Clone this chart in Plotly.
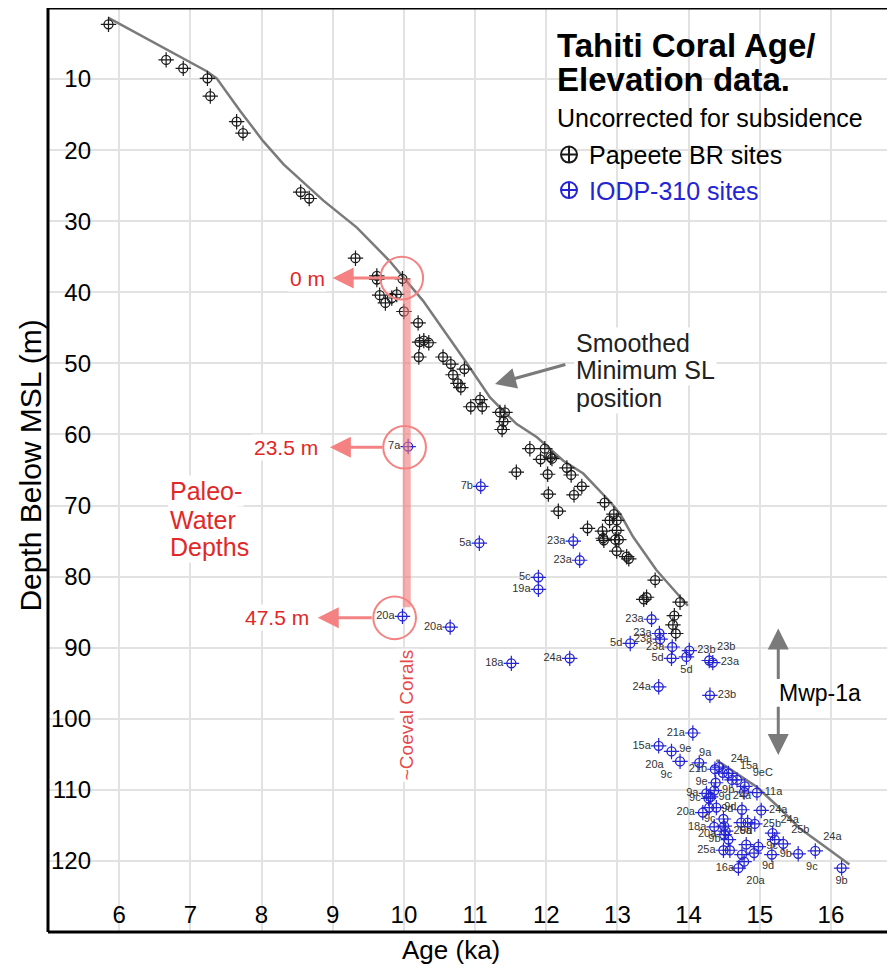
import plotly.graph_objects as go

FONT = "Liberation Sans, Arial, Helvetica, sans-serif"

# ---------------- data ----------------
# Papeete BR sites (age ka, depth m)
br_age = [5.85, 6.66, 6.90, 7.24, 7.28, 7.65, 7.74, 8.55, 8.67, 9.32, 9.62, 9.62, 9.98, 9.66,
          9.74, 9.83, 9.90, 10.00, 10.20, 10.22, 10.28, 10.35, 10.21, 10.55, 10.66, 10.69, 10.85,
          10.76, 10.80, 10.94, 11.07, 11.10, 11.35, 11.42, 11.40, 11.38, 11.77, 11.98, 11.92,
          12.06, 12.08, 11.58, 12.02, 12.29, 12.35, 12.50, 12.03, 12.39, 12.17, 12.82, 12.95,
          12.89, 12.99, 12.58, 12.99, 12.79, 12.80, 12.81, 12.97, 13.02, 12.99, 13.13, 13.16,
          13.53, 13.37, 13.41, 13.88, 13.80, 13.78, 13.82]
br_depth = [2.3, 7.3, 8.5, 9.9, 12.4, 16.0, 17.6, 25.9, 26.8, 35.2, 37.7, 38.2, 38.1, 40.4,
            41.5, 40.8, 40.3, 42.7, 44.3, 47.0, 46.8, 47.1, 49.1, 49.1, 50.1, 51.6, 50.8,
            52.8, 53.4, 56.1, 55.1, 56.1, 56.9, 56.9, 58.2, 59.3, 62.0, 62.0, 63.5,
            63.2, 63.4, 65.3, 65.6, 64.7, 65.7, 67.3, 68.4, 68.5, 70.8, 69.6, 71.2,
            72.1, 72.1, 73.2, 73.5, 73.6, 74.6, 74.9, 74.8, 74.8, 76.4, 77.2, 77.5,
            80.5, 83.2, 82.9, 83.6, 85.5, 86.8, 88.0]

# IODP-310 sites
iodp_age = [10.06, 11.08, 11.06, 12.38, 12.47, 11.89, 11.89, 9.98, 10.65, 11.51, 12.33, 13.48,
            13.59, 13.60, 13.18, 13.77, 14.01, 13.76, 13.97, 14.29, 14.34, 13.58, 14.30, 14.06,
            13.58, 13.76, 13.88, 14.15, 14.43, 14.37, 14.48, 14.56, 14.61, 14.68, 14.79, 14.78,
            14.96, 14.38, 14.36, 14.25, 14.28, 14.31, 14.20, 14.29, 14.39, 14.75, 15.02, 14.49,
            14.74, 14.83, 14.93, 14.36, 14.50, 14.52, 14.50, 15.18, 15.21, 15.33, 14.56, 14.81,
            14.98, 14.49, 14.58, 14.75, 14.92, 15.17, 15.54, 15.78, 14.78, 14.70, 16.15]
iodp_depth = [61.7, 67.3, 75.3, 75.0, 77.7, 80.1, 81.8, 85.6, 87.1, 92.2, 91.5, 86.0,
              88.0, 88.8, 89.4, 89.9, 90.4, 91.5, 91.3, 91.8, 92.1, 95.5, 96.7, 102.0,
              103.8, 104.6, 106.0, 106.2, 106.8, 107.1, 107.6, 107.7, 108.6, 108.6, 109.5, 110.3,
              110.4, 109.0, 110.1, 110.5, 111.2, 111.0, 113.2, 112.5, 112.5, 112.8, 112.9, 114.1,
              114.6, 114.6, 114.8, 115.2, 115.1, 115.8, 116.3, 116.1, 117.0, 117.6, 117.0, 117.7,
              118.0, 118.5, 118.5, 119.1, 118.9, 119.1, 119.0, 118.6, 120.1, 121.0, 121.0]
iodp_label = ["7a", "7b", "5a", "23a", "23a", "5c", "19a", "20a", "20a", "18a", "24a", "23a",
              "23a", "23a", "5d", "23a", "23b", "5d", "5d", "23b", "23a", "24a", "23b", "21a",
              "15a", "20a", "9c", "9e", "9a", "21b", "24a", "", "15a", "", "9eC", "",
              "11a", "9e", "9b", "9a", "9c", "9d", "20a", "", "9d", "24a", "24a", "9c",
              "9d", "", "25b", "18a", "", "26a", "20a", "24a", "", "25b", "9b", "9d",
              "9c", "25a", "", "16a", "9d", "9b", "9c", "24a", "", "20a", "9b"]
iodp_pos = ["ML", "ML", "ML", "ML", "ML", "ML", "ML", "ML", "ML", "ML", "ML", "ML",
            "ML", "ML", "ML", "ML", "MR", "ML", "BC", "TR", "MR", "ML", "MR", "ML",
            "ML", "BL", "BL", "TL", "TL", "ML", "TR", "MR", "TR", "MR", "TR", "MR",
            "MR", "ML", "MR", "ML", "ML", "MR", "ML", "MR", "MR", "TC", "MR", "ML",
            "TL", "MR", "MR", "ML", "MR", "MR", "ML", "TR", "MR", "TR", "ML", "TC",
            "MR", "ML", "MR", "BL", "BR", "MR", "BR", "TR", "MR", "BR", "BC"]

# smoothed minimum sea-level curve (two segments, gap = Mwp-1a)
sl1_age = [5.85, 7.23, 7.37, 7.70, 8.02, 8.31, 8.87, 9.34, 9.80, 10.27, 10.55, 10.88, 11.21,
           11.58, 11.87, 12.24, 12.52, 12.90, 13.04, 13.22, 13.55, 13.99]
sl1_depth = [1.4, 8.9, 9.9, 14.5, 18.7, 22.0, 27.1, 30.9, 35.6, 41.2, 45.2, 49.9, 54.8,
             58.5, 60.4, 63.7, 65.5, 69.5, 71.2, 74.4, 79.1, 84.1]
sl2_age = [14.39, 14.96, 15.24, 15.56, 15.89, 16.26]
sl2_depth = [105.8, 109.6, 112.2, 115.4, 117.8, 120.5]

x_ticks = [6, 7, 8, 9, 10, 11, 12, 13, 14, 15, 16]
y_ticks = [10, 20, 30, 40, 50, 60, 70, 80, 90, 100, 110, 120]

# annotation geometry (data coords)
circle_age = [9.97, 10.01, 9.87]
circle_depth = [38.0, 61.8, 85.8]
depth_labels = ["0 m", "23.5 m", "47.5 m"]
arrow_tip_age = [9.00, 8.96, 8.79]
arrow_tail_age = [9.97, 9.72, 9.57]
label_right_age = [8.92, 8.82, 8.70]
smooth_lines = ["Smoothed", "Minimum SL", "position"]
smooth_line_depth = [47.1, 51.0, 54.9]
paleo_lines = ["Paleo-", "Water", "Depths"]
paleo_line_depth = [67.9, 72.0, 75.9]

POSMAP = {"ML": "middle left", "MR": "middle right", "BL": "bottom left", "BR": "bottom right",
          "TL": "top left", "TR": "top right", "TC": "top center", "BC": "bottom center"}

BLUE = "#2424d4"
BLACK = "#1a1a1a"
RED_TXT = "#e02828"
RED_LN = "#f48282"
GRAY = "#7a7a7a"

fig = go.Figure()

# smoothed SL lines
fig.add_trace(go.Scatter(x=sl1_age, y=sl1_depth, mode="lines", line=dict(color=GRAY, width=2.5),
                         showlegend=False, hoverinfo="skip"))
fig.add_trace(go.Scatter(x=sl2_age, y=sl2_depth, mode="lines", line=dict(color=GRAY, width=2.5),
                         showlegend=False, hoverinfo="skip"))

# Paleo-water depth band
fig.add_shape(type="line", x0=10.04, x1=10.04, y0=circle_depth[0], y1=84.3, xref="x", yref="y",
              line=dict(color="rgba(242,120,120,0.6)", width=8))

# circles
rx, ry = 0.30, 3.0
for ca, cd in zip(circle_age, circle_depth):
    fig.add_shape(type="circle", xref="x", yref="y", x0=ca - rx, x1=ca + rx, y0=cd - ry, y1=cd + ry,
                  line=dict(color=RED_LN, width=2))


def crosshair(x, y, color, text=None, pos=None):
    # circle + thin cross slightly larger -> crosshair look
    fig.add_trace(go.Scatter(x=x, y=y, mode="markers",
                             marker=dict(symbol="circle-open", size=9, color=color,
                                         line=dict(width=1.3, color=color)),
                             showlegend=False, hoverinfo="skip"))
    kw = {}
    if text is not None:
        kw = dict(text=text, textposition=pos,
                  textfont=dict(size=11, color="#333333", family=FONT))
    fig.add_trace(go.Scatter(x=x, y=y, mode="markers+text" if text is not None else "markers",
                             marker=dict(symbol="cross-thin-open", size=11, color=color,
                                         line=dict(width=1.2, color=color)),
                             showlegend=False, **kw))


crosshair(br_age, br_depth, BLACK)
crosshair(iodp_age, iodp_depth, BLUE, iodp_label, [POSMAP[p] for p in iodp_pos])

# legend entries
fig.add_trace(go.Scatter(x=[None], y=[None], mode="markers", name="Papeete BR sites",
                         marker=dict(symbol="circle-cross-open", size=16, color=BLACK,
                                     line=dict(width=2, color=BLACK))))
fig.add_trace(go.Scatter(x=[None], y=[None], mode="markers",
                         name='<span style="color:#2424d4">IODP-310 sites</span>',
                         marker=dict(symbol="circle-cross-open", size=16, color=BLUE,
                                     line=dict(width=2, color=BLUE))))

anns = []
# title block
anns.append(dict(x=12.12, y=5.3, text="<b>Tahiti Coral Age/</b>", xanchor="left", yanchor="middle",
                 showarrow=False, font=dict(size=33, color="black", family=FONT)))
anns.append(dict(x=12.12, y=10.0, text="<b>Elevation data.</b>", xanchor="left", yanchor="middle",
                 showarrow=False, font=dict(size=33, color="black", family=FONT)))
anns.append(dict(x=12.12, y=15.5, text="Uncorrected for subsidence", xanchor="left", yanchor="middle",
                 showarrow=False, font=dict(size=25, color="black", family=FONT)))

# smoothed SL label + arrow
for t, d in zip(smooth_lines, smooth_line_depth):
    anns.append(dict(x=12.39, y=d, text=t, xanchor="left", yanchor="middle", align="left",
                     showarrow=False, bgcolor="white", font=dict(size=25, color="#222222", family=FONT)))
anns.append(dict(x=11.28, y=52.9, ax=12.29, ay=50.1, axref="x", ayref="y", text="",
                 showarrow=True, arrowhead=2, arrowsize=1.4, arrowwidth=3, arrowcolor=GRAY))

# Mwp-1a
anns.append(dict(x=15.85, y=96.4, text="Mwp-1a", showarrow=False,
                 font=dict(size=23, color="black", family=FONT)))
anns.append(dict(x=15.26, y=87.3, ax=15.26, ay=94.6, axref="x", ayref="y", text="",
                 showarrow=True, arrowhead=2, arrowsize=1.4, arrowwidth=3, arrowcolor=GRAY))
anns.append(dict(x=15.26, y=105.1, ax=15.26, ay=98.1, axref="x", ayref="y", text="",
                 showarrow=True, arrowhead=2, arrowsize=1.4, arrowwidth=3, arrowcolor=GRAY))

# paleo water depths
for t, d in zip(paleo_lines, paleo_line_depth):
    anns.append(dict(x=6.69, y=d, text=t, xanchor="left", yanchor="middle", align="left",
                     showarrow=False, bgcolor="white", font=dict(size=25, color=RED_TXT, family=FONT)))
for tip, tail, lab, lr, cd in zip(arrow_tip_age, arrow_tail_age, depth_labels, label_right_age, circle_depth):
    anns.append(dict(x=tip, y=cd, ax=tail, ay=cd, axref="x", ayref="y", text="",
                     showarrow=True, arrowhead=2, arrowsize=1.4, arrowwidth=3, arrowcolor=RED_LN))
    anns.append(dict(x=lr, y=cd, text=lab, xanchor="right", yanchor="middle", showarrow=False,
                     bgcolor="white", font=dict(size=21, color=RED_TXT, family=FONT)))

anns.append(dict(x=10.03, y=99.5, text="~Coeval Corals", textangle=-90, showarrow=False,
                 bgcolor="white", font=dict(size=19, color="#e64a4a", family=FONT)))

# axis titles
anns.append(dict(x=0.476, y=-0.0195, xref="paper", yref="paper", xanchor="center", yanchor="middle",
                 text="Age (ka)", showarrow=False, font=dict(size=26, color="black", family=FONT)))
anns.append(dict(x=-0.021, y=0.505, xref="paper", yref="paper", xanchor="center", yanchor="middle",
                 text="Depth Below MSL (m)", textangle=-90, showarrow=False,
                 font=dict(size=30, color="black", family=FONT)))

fig.update_layout(
    width=887, height=961,
    margin=dict(l=40, r=0, t=0, b=37, pad=0),
    paper_bgcolor="white", plot_bgcolor="white",
    font=dict(family=FONT, color="black"),
    annotations=anns,
    showlegend=True,
    legend=dict(x=0.5915, y=0.866, xanchor="left", yanchor="top", bgcolor="rgba(0,0,0,0)",
                font=dict(size=25, color="black", family=FONT), tracegroupgap=0),
    xaxis=dict(range=[5, 16.9], tickvals=x_ticks, showgrid=True, gridcolor="#e2e2e2", gridwidth=1.5,
               zeroline=False, showline=False, ticks="", anchor="free", position=0.037,
               tickfont=dict(size=24, color="black", family=FONT)),
    yaxis=dict(range=[130, 0], tickvals=y_ticks, showgrid=True, gridcolor="#e2e2e2", gridwidth=1.5,
               zeroline=False, showline=False, ticks="", anchor="free", position=0.0508,
               tickfont=dict(size=24, color="black", family=FONT)),
)

# frame
for x0, y0, x1, y1 in [(0, 1, 1, 1), (0, 0, 1, 0), (0, 0, 0, 1)]:
    fig.add_shape(type="line", xref="paper", yref="paper", x0=x0, y0=y0, x1=x1, y1=y1,
                  line=dict(color="black", width=3))

fig.write_html("out.html")
